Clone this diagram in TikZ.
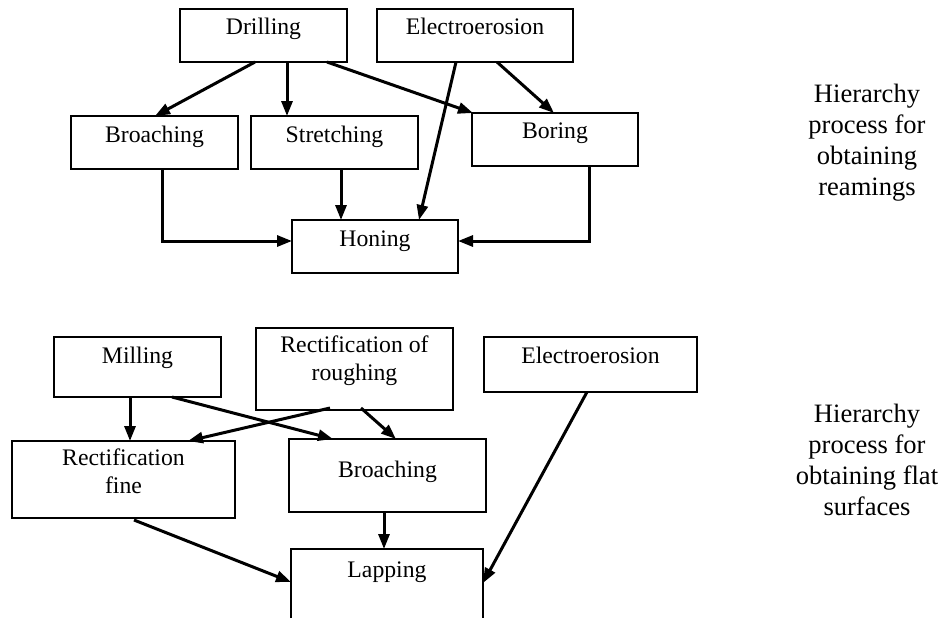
\documentclass[tikz,border=0pt]{standalone}
\usepackage{fontspec}
\setmainfont{Liberation Serif}
\usetikzlibrary{arrows.meta, calc}
\tikzset{
  procbox/.style={draw, line width=0.3mm, anchor=north west, inner sep=0pt,
                  outer sep=0pt, align=center,
                  font=\fontsize{13.5}{15.4}\selectfont},
  procarrow/.style={line width=0.6mm, -{Triangle[length=3mm, width=2.2mm]}},
  sidenote/.style={anchor=base, align=center, inner sep=0pt,
                   font=\fontsize{15.1}{17.6}\selectfont}
}

\begin{document}
\begin{tikzpicture}[x=0.2mm, y=-0.2mm]
    \useasboundingbox (0,0) rectangle (942,618);
    % reamings
    \node[procbox, minimum width=33.4mm, text height=5mm, text depth=5.6mm] (drill) at (180,9) {Drilling};
    \node[procbox, minimum width=39.2mm, text height=5mm, text depth=5.6mm] (erosA) at (377,9) {Electroerosion};
    \node[procbox, minimum width=33.4mm, text height=5.2mm, text depth=5.4mm] (broachA) at (71,116) {Broaching};
    \node[procbox, minimum width=33.4mm, text height=5.2mm, text depth=5.4mm] (stretch) at (251,116) {Stretching};
    \node[procbox, minimum width=33.2mm, text height=5mm, text depth=5.6mm] (boring) at (472,113) {Boring};
    \node[procbox, minimum width=33.2mm, text height=5.2mm, text depth=5.4mm] (honing) at (292,220) {Honing};

    \draw[procarrow] ($(drill.south west)+(75,0)$) -- ($(broachA.north west)+(84,0)$);
    \draw[procarrow] ($(drill.south west)+(107,0)$) -- ($(stretch.north west)+(36,0)$);
    \draw[procarrow] ($(drill.south west)+(147,0)$) -- ($(boring.north west)+(1,0)$);
    \draw[procarrow] ($(erosA.south west)+(120,0)$) -- ($(boring.north west)+(82,0)$);
    \draw[procarrow] ($(erosA.south west)+(79,0)$) -- ($(honing.north west)+(127,0)$);
    \draw[procarrow] ($(stretch.south west)+(90,0)$) -- ($(honing.north west)+(49,0)$);
    \draw[procarrow] ($(broachA.south west)+(91,0)$) |- ($(honing.north west)+(0,21)$);
    \draw[procarrow] ($(boring.south west)+(117,0)$) |- ($(honing.north east)+(0,21)$);

    % flat surfaces
    \node[procbox, minimum width=33.4mm, text height=5.2mm, text depth=6.8mm] (mill) at (54,337) {Milling};
    \node[procbox, minimum width=39.4mm, text height=10.4mm, text depth=6mm] (rough) at (256,328) {Rectification of\\roughing};
    \node[procbox, minimum width=42.6mm, text height=5.2mm, text depth=5.8mm] (erosB) at (484,337) {Electroerosion};
    \node[procbox, minimum width=44.6mm, text height=10.4mm, text depth=5mm] (fine) at (12,441) {Rectification\\fine};
    \node[procbox, minimum width=39.4mm, text height=7.6mm, text depth=7mm] (broachB) at (289,439) {Broaching};
    \node[procbox, draw=none, minimum width=38.4mm, text height=5.6mm, text depth=8.2mm] (lapping) at (291,549) {Lapping};
    \draw[line width=0.3mm] (lapping.south west) |- (lapping.north east) -- (lapping.south east);

    \draw[procarrow] ($(mill.south west)+(76,0)$) -- ($(fine.north west)+(118,0)$);
    \draw[procarrow] ($(mill.south west)+(118,0)$) -- ($(broachB.north west)+(44,0)$);
    \draw[procarrow] ($(rough.south west)+(74,-2)$) -- ($(fine.north west)+(176,0)$);
    \draw[procarrow] ($(rough.south west)+(105,-2)$) -- ($(broachB.north west)+(107,0)$);
    \draw[procarrow] ($(erosB.south west)+(103,0)$) -- ($(lapping.north east)+(0,34)$);
    \draw[procarrow] ($(broachB.south west)+(95,0)$) -- ($(lapping.north west)+(93,0)$);
    \draw[procarrow] ($(fine.south west)+(122,2)$) -- ($(lapping.north west)+(0,33)$);

    \node[sidenote] (noteA) at (867,195) {Hierarchy\\process for\\obtaining\\reamings};
    \node[sidenote] (noteB) at (867,515) {Hierarchy\\process for\\obtaining flat\\surfaces};
\end{tikzpicture}
\end{document}
